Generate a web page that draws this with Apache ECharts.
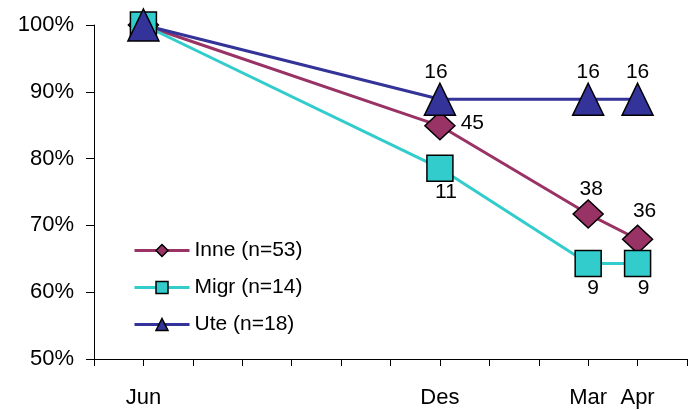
<!DOCTYPE html>
<html>
<head>
<meta charset="utf-8">
<script src="https://cdn.jsdelivr.net/npm/echarts@6/dist/echarts.min.js"></script>
<style>
  html, body { margin: 0; padding: 0; background: #fff; }
  #chart { width: 693px; height: 410px; }
</style>
</head>
<body>
<div id="chart"></div>
<script>
// Month numbers on the time axis (Jun = 6, Des = 12, Mar = 15, Apr = 16)
const monthNumbers = [6, 12, 15, 16];
const monthNames = ['Jun', 'Des', 'Mar', 'Apr'];

// Number still remaining at each survey round, per group
const inneCounts = [53, 45, 38, 36];
const migrCounts = [14, 11, 9, 9];
const uteCounts = [18, 16, 16, 16];

const groupNames = ['Inne (n=53)', 'Migr (n=14)', 'Ute (n=18)'];
const groupSizes = [53, 14, 18];
const yTicks = [50, 60, 70, 80, 90, 100];

const FONT = '"Liberation Sans", Arial, sans-serif';

// Label placement per point (first round is left unlabeled)
const labelSpecs = [
  [null, { position: 'right', offset: [5, -3] }, { position: 'top', offset: [3, 0] }, { position: 'top', offset: [7, 0], distance: 3 }],
  [null, { position: 'bottom', offset: [6, 0] }, { position: 'bottom', offset: [5, 0] }, { position: 'bottom', offset: [6, 0] }],
  [null, { position: 'top', offset: [-4, 0] }, { position: 'top', offset: [0, 0] }, { position: 'top', offset: [0, 0] }]
];

function buildData(counts, n, specs) {
  return counts.map((c, i) => {
    const item = { value: [monthNumbers[i], c / n * 100], count: c };
    if (specs[i]) {
      item.label = Object.assign({ show: true, distance: 0 }, specs[i]);
    }
    return item;
  });
}

const countsByGroup = [inneCounts, migrCounts, uteCounts];
const colors = ['#993366', '#33CCCC', '#333399'];
const symbols = ['diamond', 'rect', 'triangle'];
const symbolSizes = [[30, 28], [26, 26], [31, 32]];

const series = groupNames.map((name, g) => ({
  name: name,
  type: 'line',
  data: buildData(countsByGroup[g], groupSizes[g], labelSpecs[g]),
  symbol: symbols[g],
  symbolSize: symbolSizes[g],
  lineStyle: { color: colors[g], width: 3 },
  itemStyle: { color: colors[g], borderColor: '#000', borderWidth: 1.5 },
  label: {
    show: false,
    color: '#000',
    fontFamily: FONT,
    fontSize: 21,
    formatter: p => String(p.data.count)
  },
  emphasis: { disabled: true },
  animation: false
}));

const chart = echarts.init(document.getElementById('chart'));
chart.setOption({
  backgroundColor: '#fff',
  grid: { left: 94, right: 6, top: 25, bottom: 51 },
  legend: {
    orient: 'vertical',
    left: 128,
    top: 235,
    itemWidth: 55,
    itemHeight: 15,
    itemGap: 16,
    data: groupNames,
    lineStyle: { width: 3 },
    itemStyle: { borderColor: '#000', borderWidth: 1.5 },
    textStyle: { color: '#000', fontFamily: FONT, fontSize: 21 }
  },
  xAxis: {
    type: 'value',
    min: 5,
    max: 17,
    interval: 1,
    axisLine: { show: true, onZero: false, lineStyle: { color: '#000', width: 1 } },
    axisTick: { show: true, length: 7, lineStyle: { color: '#000' } },
    splitLine: { show: false },
    axisLabel: {
      margin: 28,
      color: '#000',
      fontFamily: FONT,
      fontSize: 22,
      showMinLabel: true,
      showMaxLabel: true,
      formatter: v => {
        const k = monthNumbers.indexOf(v);
        return k >= 0 ? monthNames[k] : '';
      }
    }
  },
  yAxis: {
    type: 'value',
    min: yTicks[0],
    max: yTicks[yTicks.length - 1],
    interval: 10,
    axisLine: { show: true, lineStyle: { color: '#000', width: 1 } },
    axisTick: { show: true, length: 8, lineStyle: { color: '#000' } },
    splitLine: { show: false },
    axisLabel: {
      margin: 20,
      color: '#000',
      fontFamily: FONT,
      fontSize: 22,
      formatter: v => v + '%'
    }
  },
  series: series
});
</script>
</body>
</html>
